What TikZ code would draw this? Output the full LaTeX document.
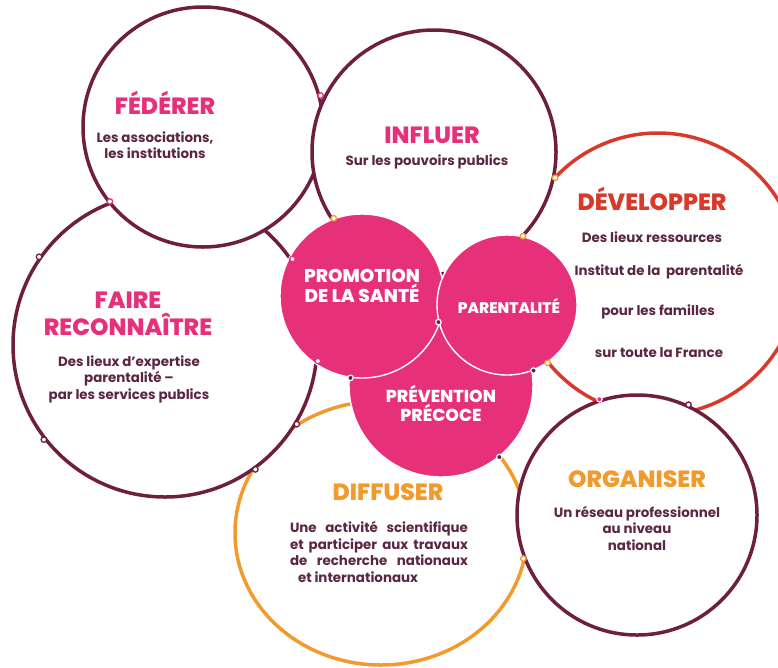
\documentclass[tikz,border=0pt]{standalone}
\usepackage{fontspec}
\setmainfont{Poppins}
\newfontfamily\semifont{Poppins SemiBold}
\newfontfamily\grasfont{Poppins ExtraBold}
\usetikzlibrary{shapes.geometric}
\definecolor{wine}{HTML}{6E1F3F}
\definecolor{rose}{HTML}{E6307A}
\definecolor{brique}{HTML}{D8392B}
\definecolor{ambre}{HTML}{F29B2C}
\definecolor{encre}{HTML}{5B2643}
\tikzset{
  bulle/.style={circle, draw=wine, line width=3.5pt, fill=white, inner sep=0pt, minimum size=#1},
  coeur/.style={circle, draw=white, line width=1.4pt, fill=rose, inner sep=0pt, minimum size=#1},
  titre/.style={font=\grasfont\fontsize{23.5}{27}\selectfont, text=rose, align=center},
  corps/.style={font=\bfseries\fontsize{13.4}{16.5}\selectfont, text=encre, align=center},
  blanc/.style={font=\grasfont\fontsize{18.5}{16}\selectfont, text=white, align=center},
  pastille/.style={circle, inner sep=0pt, minimum size=5.5pt, line width=1.3pt, fill=white, draw=#1},
  pleine/.style={circle, inner sep=0pt, minimum size=5.5pt, line width=1.2pt, fill=#1, draw=white},
}
\begin{document}
\begin{tikzpicture}[x=1pt,y=-1pt]
\useasboundingbox (0,0) rectangle (778,667);
\clip (0,0) rectangle (778,667);
%les grands cercles, du fond vers le devant
\node[ellipse, draw=ambre, line width=3.5pt, fill=white, minimum width=292, minimum height=264] (dif) at (381,533) {};
\node[bulle=282, draw=brique] (dev) at (658,274) {};
\node[bulle=304] (fai) at (165,345) {};
\node[bulle=240] (fed) at (203,127) {};
\node[bulle=244] (inf) at (434,152) {};
\node[bulle=240] (org) at (637,515) {};
%les trois cercles roses du centre
\node[coeur=184] (pre) at (441,385) {};
\node[coeur=164] (pro) at (362,296) {};
\node[coeur=140] (par) at (507,305) {};

%pastilles aux croisements
\node[pastille=rose] (p1) at (fed.15) {};
\node[pastille=rose] (p2) at (fai.111) {};
\node[pastille=rose] (p3) at (fai.34) {};
\node[pastille=rose] (p4) at (fai.-6) {};
\node[pastille=wine] (p5) at (fai.145) {};
\node[pastille=wine] (p6) at (fai.218) {};
\node[pastille=wine] (p7) at (fai.-31) {};
\node[pastille=wine] (p8) at (fai.-54) {};
\node[pastille=ambre] (p9) at (pro.110) {};
\node[pastille=ambre] (p10) at (par.77) {};
\node[pastille=ambre] (p11) at (inf.-12) {};
\node[pastille=ambre] (p12) at (par.-55) {};
\node[pastille=ambre] (p13) at (org.201) {};
\node[pastille=wine] (p14) at (org.65) {};
\node[pleine=rose] (p15) at (org.108) {};
\node[pleine=wine] (p16) at (par.194) {};
\node[pleine=wine] (p17) at (pro.262) {};
\node[pleine=wine] (p18) at (par.-68) {};
\node[pleine=wine] (p19) at (pre.-51) {};

%les textes
\node[titre] (fed-t) at (165,103) {FÉDÉRER};
\node[corps] (fed-c) at (155,145) {Les associations,\\les institutions};
\node[titre] (inf-t) at (432,135) {INFLUER};
\node[corps] (inf-c) at (427,162) {Sur les pouvoirs publics};
\node[titre, text=brique] (dev-t) at (652,199) {DÉVELOPPER};
\node[corps] (dev-c1) at (652,237) {Des lieux ressources};
\node[corps] (dev-c2) at (659,272) {Institut de la\ \ parentalité};
\node[corps] (dev-c3) at (658,312) {pour les familles};
\node[corps] (dev-c4) at (659,353) {sur toute la France};
\node[titre] (fai-t) at (128,314) {FAIRE\\RECONNAÎTRE};
\node[corps] (fai-c) at (129,379) {Des lieux d’expertise\\parentalité –\\par les services publics};
\node[blanc] (pro-t) at (362,286) {PROMOTION\\DE LA SANTÉ};
\node[blanc, font=\grasfont\fontsize{15.3}{16}\selectfont] (par-t) at (509,306) {PARENTALITÉ};
\node[blanc, font=\grasfont\fontsize{17.3}{19}\selectfont] (pre-t) at (441,403) {PRÉVENTION\\PRÉCOCE};
\node[titre, text=ambre] (dif-t) at (388,492) {DIFFUSER};
\node[corps, align=left] (dif-c) at (379,552) {\makebox[178pt][s]{Une activité scientifique}\\\makebox[178pt][s]{et participer aux travaux}\\\makebox[178pt][s]{de recherche nationaux}\\\hspace{8pt}et internationaux};
\node[titre, text=ambre] (org-t) at (637,479) {ORGANISER};
\node[corps] (org-c) at (637,528) {Un réseau professionnel\\au niveau\\national};
\end{tikzpicture}
\end{document}
